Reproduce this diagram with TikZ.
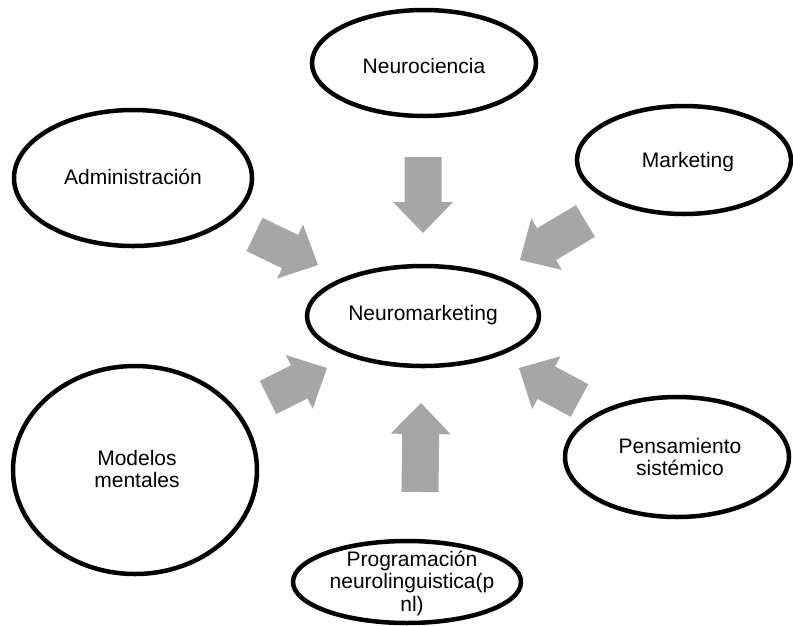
\documentclass[tikz,border=0pt]{standalone}
\usepackage{fontspec}
\setmainfont{Liberation Sans}
\usetikzlibrary{shapes.geometric,calc}
\definecolor{arrgray}{RGB}{166,166,166}
\tikzset{
  oval/.style={draw=black, line width=4.5pt, ellipse, inner sep=0pt, fill=white},
  txt/.style={align=center, inner sep=0pt, font=\fontsize{21}{22.5}\selectfont},
  arrowfill/.style={fill=arrgray}
}
\newcommand{\blockarr}[2]{%
  \coordinate (hb) at ($(#2)!31pt!(#1)$);
  \fill[arrowfill] ($(#1)!18.5pt!90:(#2)$) -- ($(hb)!18.5pt!90:(#2)$) -- ($(hb)!30pt!90:(#2)$) -- (#2)
    -- ($(hb)!30pt!-90:(#2)$) -- ($(hb)!18.5pt!-90:(#2)$) -- ($(#1)!18.5pt!-90:(#2)$) -- cycle;
}
\begin{document}
\begin{tikzpicture}[x=1pt,y=-1pt]
\useasboundingbox (0,0) rectangle (793,625);
% ellipses
\node[oval, minimum width=224pt, minimum height=106pt] (neuroc) at (424,63) {};
\node[oval, minimum width=238pt, minimum height=136pt] (admin) at (133,178) {};
\node[oval, minimum width=214pt, minimum height=108pt] (mkt) at (684,160) {};
\node[oval, minimum width=232pt, minimum height=100pt] (neurom) at (423,316) {};
\node[oval, minimum width=244pt, minimum height=208pt] (modelos) at (135,470) {};
\node[oval, minimum width=224pt, minimum height=120pt] (pens) at (677,457) {};
\node[oval, minimum width=228pt, minimum height=82pt] (prog) at (407,582) {};
% texts
\node[txt] (tneuroc) at (424,66) {Neurociencia};
\node[txt] (tadmin) at (133,177) {Administración};
\node[txt] (tmkt) at (688,162) {Marketing};
\node[txt] (tneurom) at (423,315) {Neuromarketing};
\node[txt] (tmodelos) at (137,469) {Modelos\\mentales};
\node[txt] (tpens) at (680,457) {Pensamiento\\sistémico};
\node[txt] (tprog) at (412,583) {Programación\\neurolinguistica(p\\nl)};
% arrow coordinates
\coordinate (a1s) at (423,157); \coordinate (a1e) at (423,233);
\coordinate (a2s) at (420,492); \coordinate (a2e) at (421,403);
\coordinate (a3s) at (254.5,234.5); \coordinate (a3e) at (318,265);
\coordinate (a4s) at (585.5,221); \coordinate (a4e) at (520,260);
\coordinate (a5s) at (268,397.5); \coordinate (a5e) at (327,368);
\coordinate (a6s) at (579.5,400.5); \coordinate (a6e) at (519,368);
\blockarr{a1s}{a1e}
\blockarr{a2s}{a2e}
\blockarr{a3s}{a3e}
\blockarr{a4s}{a4e}
\blockarr{a5s}{a5e}
\blockarr{a6s}{a6e}
\end{tikzpicture}
\end{document}
